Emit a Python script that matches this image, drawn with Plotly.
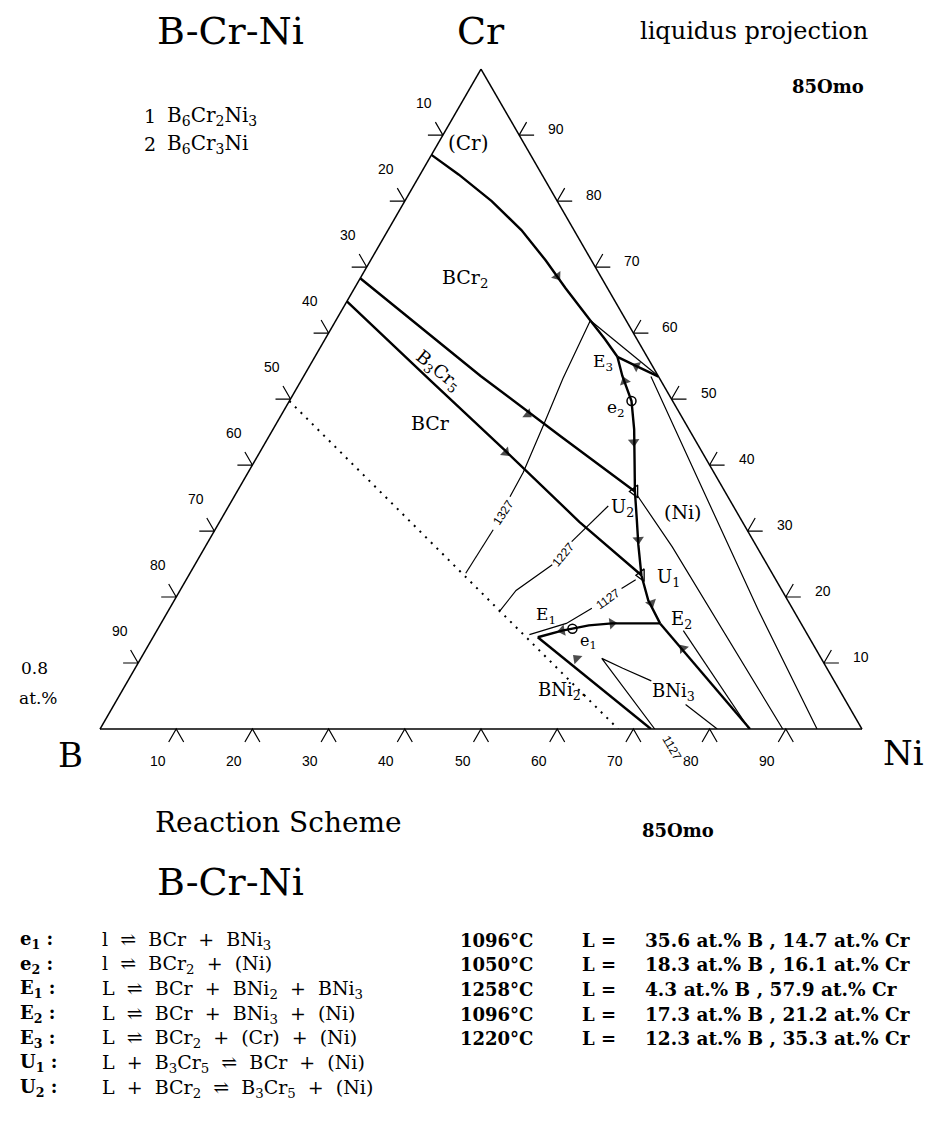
import numpy as np
import plotly.graph_objects as go

W, H = 929, 1123

# ---------------------------------------------------------------- data
# compositions in at.% ; Ni = 100 - B - Cr (ternary sum = 100)
ticks = [10, 20, 30, 40, 50, 60, 70, 80, 90]

cr_bcr2_B = [13.0, 10.9, 8.6, 6.9, 6.0, 5.5, 4.7, 4.2, 3.9]
cr_bcr2_Cr = [87.0, 84.0, 80.0, 75.6, 71.0, 66.8, 61.9, 59.1, 56.4]

cr_ni_B = [0.0, 2.1, 3.9]
cr_ni_Cr = [53.4, 55.0, 56.4]

bcr2_ni_B = [3.9, 4.7, 5.4, 7.2, 9.4, 11.8, 13.7, 15.4, 17.3, 18.3, 18.5]
bcr2_ni_Cr = [56.4, 53.5, 49.7, 45.4, 40.9, 36.0, 31.7, 27.9, 23.3, 19.5, 16.0]

bcr2_b3cr5_B = [31.7, 23.3, 17.4, 11.8]
bcr2_b3cr5_Cr = [68.3, 53.5, 44.4, 36.0]

b3cr5_bcr_B = [35.2, 30.2, 25.7, 21.4, 17.3]
b3cr5_bcr_Cr = [64.8, 52.7, 42.1, 31.4, 23.3]

bcr_bni3_B = [35.6, 31.9, 30.4, 28.0, 24.8, 18.5]
bcr_bni3_Cr = [13.9, 14.9, 15.2, 15.7, 16.0, 16.0]

bni3_ni_B = [18.5, 14.7]
bni3_ni_Cr = [16.0, 0.0]

bni2_bni3_B = [35.6, 27.7]
bni2_bni3_Cr = [13.9, 0.0]

iso1327_B = [4.7, 12.7, 18.9, 25.0, 28.6]
iso1327_Cr = [61.9, 53.1, 45.9, 38.9, 35.2]
iso1327_low_B = [33.3, 40.2]
iso1327_low_Cr = [30.2, 23.6]
iso1327_cr_B = [4.7, 0.0]
iso1327_cr_Cr = [61.9, 53.5]

iso1227_B = [16.4, 23.9]
iso1227_Cr = [33.8, 28.4]
iso1227_low_B = [28.2, 34.9, 38.8]
iso1227_low_Cr = [24.9, 21.0, 17.7]

iso1127_B = [18.4, 20.9]
iso1127_Cr = [22.6, 21.3]
iso1127_low_B = [26.3, 30.8, 36.5]
iso1127_low_Cr = [18.3, 16.0, 14.3]

loop_B = [27.2, 28.8, 26.8, 24.0]
loop_Cr = [0.0, 10.7, 9.2, 7.3]
loop_end_B = [21.3, 19.0]
loop_end_Cr = [3.7, 0.0]

ni1_B = [1.0, 2.6, 4.6, 5.9]
ni1_Cr = [53.4, 37.8, 18.0, 0.0]
ni2_B = [11.8, 11.1, 10.4]
ni2_Cr = [35.5, 27.6, 0.0]
ni3_B = [16.0, 14.8]
ni3_Cr = [14.9, 0.0]

dotted_B = [50.3, 32.0]
dotted_Cr = [49.7, 0.0]

max_B = [30.4, 5.4]          # e1, e2
max_Cr = [15.2, 49.7]
u_B = [17.3, 11.8]           # U1, U2
u_Cr = [23.3, 36.0]

arrow_B = [5.7, 2.1, 4.8, 8.2, 15.0, 18.1, 20.0, 25.8, 24.8, 31.9, 17.4, 32.1]
arrow_Cr = [68.6, 55.0, 52.7, 43.5, 28.7, 19.1, 47.7, 41.9, 16.0, 14.9, 12.2, 10.7]
arrow_from_B = [6.0, 0.0, 5.4, 5.4, 11.8, 17.3, 23.3, 30.2, 30.4, 30.4, 14.7, 27.7]
arrow_from_Cr = [71.0, 53.4, 49.7, 49.7, 36.0, 23.3, 53.5, 52.7, 15.2, 15.2, 0.0, 0.0]

labels = ["e<sub>1</sub> :", "e<sub>2</sub> :", "E<sub>1</sub> :", "E<sub>2</sub> :",
          "E<sub>3</sub> :", "U<sub>1</sub> :", "U<sub>2</sub> :"]
reactions = ["l ⇌ BCr + BNi<sub>3</sub>",
             "l ⇌ BCr<sub>2</sub> + (Ni)",
             "L ⇌ BCr + BNi<sub>2</sub> + BNi<sub>3</sub>",
             "L ⇌ BCr + BNi<sub>3</sub> + (Ni)",
             "L ⇌ BCr<sub>2</sub> + (Cr) + (Ni)",
             "L + B<sub>3</sub>Cr<sub>5</sub> ⇌ BCr + (Ni)",
             "L + BCr<sub>2</sub> ⇌ B<sub>3</sub>Cr<sub>5</sub> + (Ni)"]
temps = ["1096°C", "1050°C", "1258°C", "1096°C", "1220°C"]
liq_B = [35.6, 18.3, 4.3, 17.3, 12.3]
liq_Cr = [14.7, 16.1, 57.9, 21.2, 35.3]

# ---------------------------------------------------------------- geometry
BX, NX, BASEY = 100.0, 862.0, 729.0
SIDE = NX - BX
S3 = np.sqrt(3) / 2
SERIF = "DejaVu Serif"
SANS = "Liberation Sans"
NB = "\u00a0"


def paper(x, y):
    return x / W, 1 - y / H


def cart(cr, ni):
    return ni + cr / 2, cr * S3


fig = go.Figure()


def curve(B, Cr, width=2.4, dash=None):
    fig.add_trace(go.Scatterternary(
        a=Cr, b=B, mode="lines", hoverinfo="skip",
        line=dict(color="black", width=width, dash=dash)))


for B, Cr in [(cr_bcr2_B, cr_bcr2_Cr), (cr_ni_B, cr_ni_Cr), (bcr2_ni_B, bcr2_ni_Cr),
              (bcr2_b3cr5_B, bcr2_b3cr5_Cr), (b3cr5_bcr_B, b3cr5_bcr_Cr),
              (bcr_bni3_B, bcr_bni3_Cr), (bni3_ni_B, bni3_ni_Cr), (bni2_bni3_B, bni2_bni3_Cr)]:
    curve(B, Cr, 2.4)

for B, Cr in [(iso1327_B, iso1327_Cr), (iso1327_low_B, iso1327_low_Cr), (iso1327_cr_B, iso1327_cr_Cr),
              (iso1227_B, iso1227_Cr), (iso1227_low_B, iso1227_low_Cr),
              (iso1127_B, iso1127_Cr), (iso1127_low_B, iso1127_low_Cr),
              (loop_B, loop_Cr), (loop_end_B, loop_end_Cr),
              (ni1_B, ni1_Cr), (ni2_B, ni2_Cr), (ni3_B, ni3_Cr)]:
    curve(B, Cr, 1.2)

curve(dotted_B, dotted_Cr, 2.0, "2px,6px")

fig.add_trace(go.Scatterternary(
    a=max_Cr, b=max_B, mode="markers", hoverinfo="skip",
    marker=dict(symbol="circle-open", size=9, color="black", line=dict(width=1.5))))
fig.add_trace(go.Scatterternary(
    a=u_Cr, b=u_B, mode="markers", hoverinfo="skip",
    marker=dict(symbol="triangle-left-open", size=11, color="black", line=dict(width=1.3))))

aa, bb, ss = [], [], []
for b0, c0, b1, c1 in zip(arrow_from_B, arrow_from_Cr, arrow_B, arrow_Cr):
    bb += [b0, b1]
    aa += [c0, c1]
    ss += [0, 10]
fig.add_trace(go.Scatterternary(
    a=aa, b=bb, mode="markers", hoverinfo="skip",
    marker=dict(symbol="triangle-up", size=ss, color="black", angleref="previous",
                line=dict(width=0))))

# ---------------------------------------------------------------- ticks (chevrons)
L = 15 / SIDE
D = 37 / SIDE
tx, ty = [], []
annotations = []
for v in ticks:
    f = v / 100
    # left edge: at.% B
    x0, y0 = cart(1 - f, 0)
    tx += [x0 - L, x0, x0 - L * 0.5, None]
    ty += [y0, y0, y0 + L * S3, None]
    annotations.append(dict(x=x0 - D * 0.5, y=y0 + D * S3, xref="x", yref="y", text=str(v),
                            showarrow=False, font=dict(family=SANS, size=14, color="black")))
    # bottom edge: at.% Ni
    x0, y0 = cart(0, f)
    tx += [x0 - L * 0.5, x0, x0 + L * 0.5, None]
    ty += [y0 - L * S3, y0, y0 - L * S3, None]
    annotations.append(dict(x=x0 - D * 0.5, y=y0 - D * S3, xref="x", yref="y", text=str(v),
                            showarrow=False, font=dict(family=SANS, size=14, color="black")))
    # right edge: at.% Cr
    x0, y0 = cart(f, 1 - f)
    tx += [x0 + L * 0.5, x0, x0 + L, None]
    ty += [y0 + L * S3, y0, y0, None]
    annotations.append(dict(x=x0 + D, y=y0 + 6 / SIDE, xref="x", yref="y", text=str(v),
                            showarrow=False, font=dict(family=SANS, size=14, color="black")))

fig.add_trace(go.Scatter(x=tx, y=ty, mode="lines", hoverinfo="skip",
                         line=dict(color="black", width=1.2), xaxis="x", yaxis="y"))


def txt(text, x, y, size, anchor="center", bold=False, angle=0, family=SERIF, bg=None):
    px, py = paper(x, y)
    if bold:
        text = "<b>" + text + "</b>"
    a = dict(x=px, y=py, xref="paper", yref="paper", text=text, showarrow=False,
             xanchor=anchor, yanchor="middle", textangle=angle,
             font=dict(family=family, size=size, color="black"))
    if bg:
        a["bgcolor"] = bg
    annotations.append(a)


# titles
txt("B-Cr-Ni", 230, 31, 38)
txt("Cr", 481, 31, 38)
txt("liquidus projection", 754, 31, 24)
txt("85Omo", 828, 87, 18, bold=True)
txt("1", 150, 116, 19)
txt("B<sub>6</sub>Cr<sub>2</sub>Ni<sub>3</sub>", 165, 116, 20, anchor="left")
txt("2", 150, 144, 19)
txt("B<sub>6</sub>Cr<sub>3</sub>Ni", 165, 144, 20, anchor="left")
txt("0.8", 34, 668, 17)
txt("at.%", 38, 698, 17)
txt("B", 70, 755, 34)
txt("Ni", 903, 753, 34)

# field and point labels
txt("(Cr)", 468, 143, 20)
txt("BCr<sub>2</sub>", 465, 278, 19)
txt("B<sub>3</sub>Cr<sub>5</sub>", 438, 371, 18, angle=39)
txt("BCr", 430, 423, 19)
txt("E<sub>3</sub>", 603, 362, 17)
txt("e<sub>2</sub>", 616, 408, 17)
txt("U<sub>2</sub>", 622, 508, 18)
txt("(Ni)", 683, 512, 19)
txt("U<sub>1</sub>", 668, 578, 18)
txt("E<sub>1</sub>", 546, 615, 17)
txt("e<sub>1</sub>", 588, 641, 16)
txt("E<sub>2</sub>", 681, 620, 18)
txt("BNi<sub>2</sub>.", 562, 691, 18)
txt("BNi<sub>3</sub>", 673, 692, 18)
txt("1327", 503, 513, 12, angle=-57, family=SANS)
txt("1227", 563, 555, 12, angle=-50, family=SANS)
txt("1127", 608, 599, 12, angle=-35, family=SANS)
txt("1127", 672, 748, 12, angle=60, family=SANS, bg="white")

# reaction scheme
txt("Reaction Scheme", 278, 822, 28)
txt("85Omo", 678, 830, 18, bold=True)
txt("B-Cr-Ni", 230, 882, 38)
row_y = [940, 964.7, 989.3, 1014, 1038.7, 1063.3, 1088]
for i, (lab, rx) in enumerate(zip(labels, reactions)):
    txt(lab, 18, row_y[i], 18, anchor="left", bold=True)
    txt(rx.replace(" ", NB + NB), 100, row_y[i], 19, anchor="left")
for i, (t, b, c) in enumerate(zip(temps, liq_B, liq_Cr)):
    txt(t, 458, row_y[i], 18, anchor="left", bold=True)
    txt("L =", 580, row_y[i], 18, anchor="left", bold=True)
    txt(f"{b} at.% B , {c} at.% Cr", 643, row_y[i], 18.5, anchor="left", bold=True)

axis_style = dict(showgrid=False, showticklabels=False, ticks="", linecolor="black",
                  linewidth=1.5, title=dict(text=""))
fig.update_layout(
    width=W, height=H, autosize=False, margin=dict(l=0, r=0, t=0, b=0),
    paper_bgcolor="white", plot_bgcolor="rgba(0,0,0,0)", showlegend=False,
    ternary=dict(sum=100,
                 domain=dict(x=[BX / W, NX / W],
                             y=[1 - BASEY / H, 1 - (BASEY - SIDE * S3) / H]),
                 bgcolor="rgba(0,0,0,0)",
                 aaxis=axis_style, baxis=axis_style, caxis=axis_style),
    xaxis=dict(range=[-BX / SIDE, (W - BX) / SIDE], domain=[0, 1], visible=False, fixedrange=True),
    yaxis=dict(range=[(BASEY - H) / SIDE, BASEY / SIDE], domain=[0, 1], visible=False, fixedrange=True),
    annotations=annotations,
)

fig.write_html("out.html", config={"displayModeBar": False},
               post_script="document.body.style.margin='0px';")
